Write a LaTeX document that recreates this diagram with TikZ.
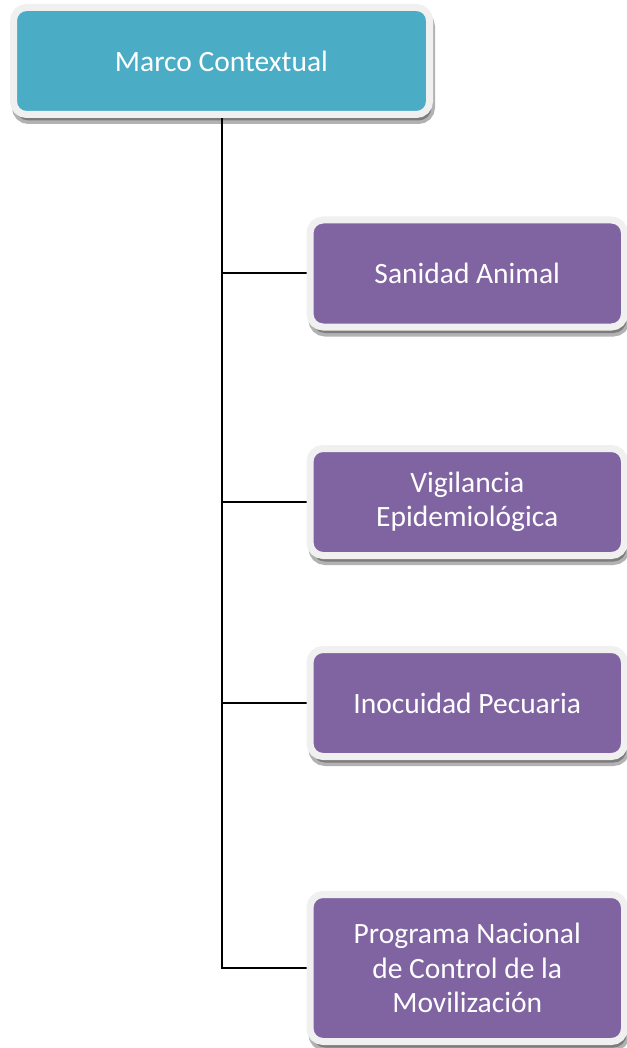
\documentclass[tikz,border=0pt]{standalone}
\usepackage{fontspec}
\setmainfont{Carlito}
\usetikzlibrary{shadows,backgrounds}
\definecolor{tealbox}{HTML}{4BACC6}
\definecolor{purpbox}{HTML}{8064A2}
\definecolor{rim}{HTML}{F0F0F0}
\begin{document}
\begin{tikzpicture}[x=1pt,y=-1pt,
  box/.style={rectangle, rounded corners=13pt, draw=rim, line width=7pt,
    text=white, font=\fontsize{29.5}{34.5}\selectfont, align=center, inner sep=0pt,
    drop shadow={shadow xshift=2pt, shadow yshift=-6pt, fill=black, draw=black,
      line width=7pt, opacity=0.3}},
  topbox/.style={box, fill=tealbox, minimum width=416pt, minimum height=107pt},
  subbox/.style={box, fill=purpbox, minimum width=314.5pt, minimum height=107pt},
  conn/.style={draw=black, line width=2pt}]
\useasboundingbox (0,0) rectangle (626,1048);
\node[topbox] (top) at (221.5,61) {\raisebox{-2pt}{Marco Contextual}};
\node[subbox] (b1) at (467.25,273.5) {\raisebox{-2pt}{Sanidad Animal}};
\node[subbox] (b2) at (467.25,502) {Vigilancia\\Epidemiológica};
\node[subbox] (b3) at (467.25,703) {\raisebox{-2pt}{Inocuidad Pecuaria}};
\node[subbox, minimum height=147pt] (b4) at (467.25,968) {Programa Nacional\\de Control de la\\Movilización};
\begin{pgfonlayer}{background}
\draw[conn] (top.south) |- (b4.west);
\draw[conn] (b1.west) -- (b1.west -| top.south);
\draw[conn] (b2.west) -- (b2.west -| top.south);
\draw[conn] (b3.west) -- (b3.west -| top.south);
\end{pgfonlayer}
\end{tikzpicture}
\end{document}
